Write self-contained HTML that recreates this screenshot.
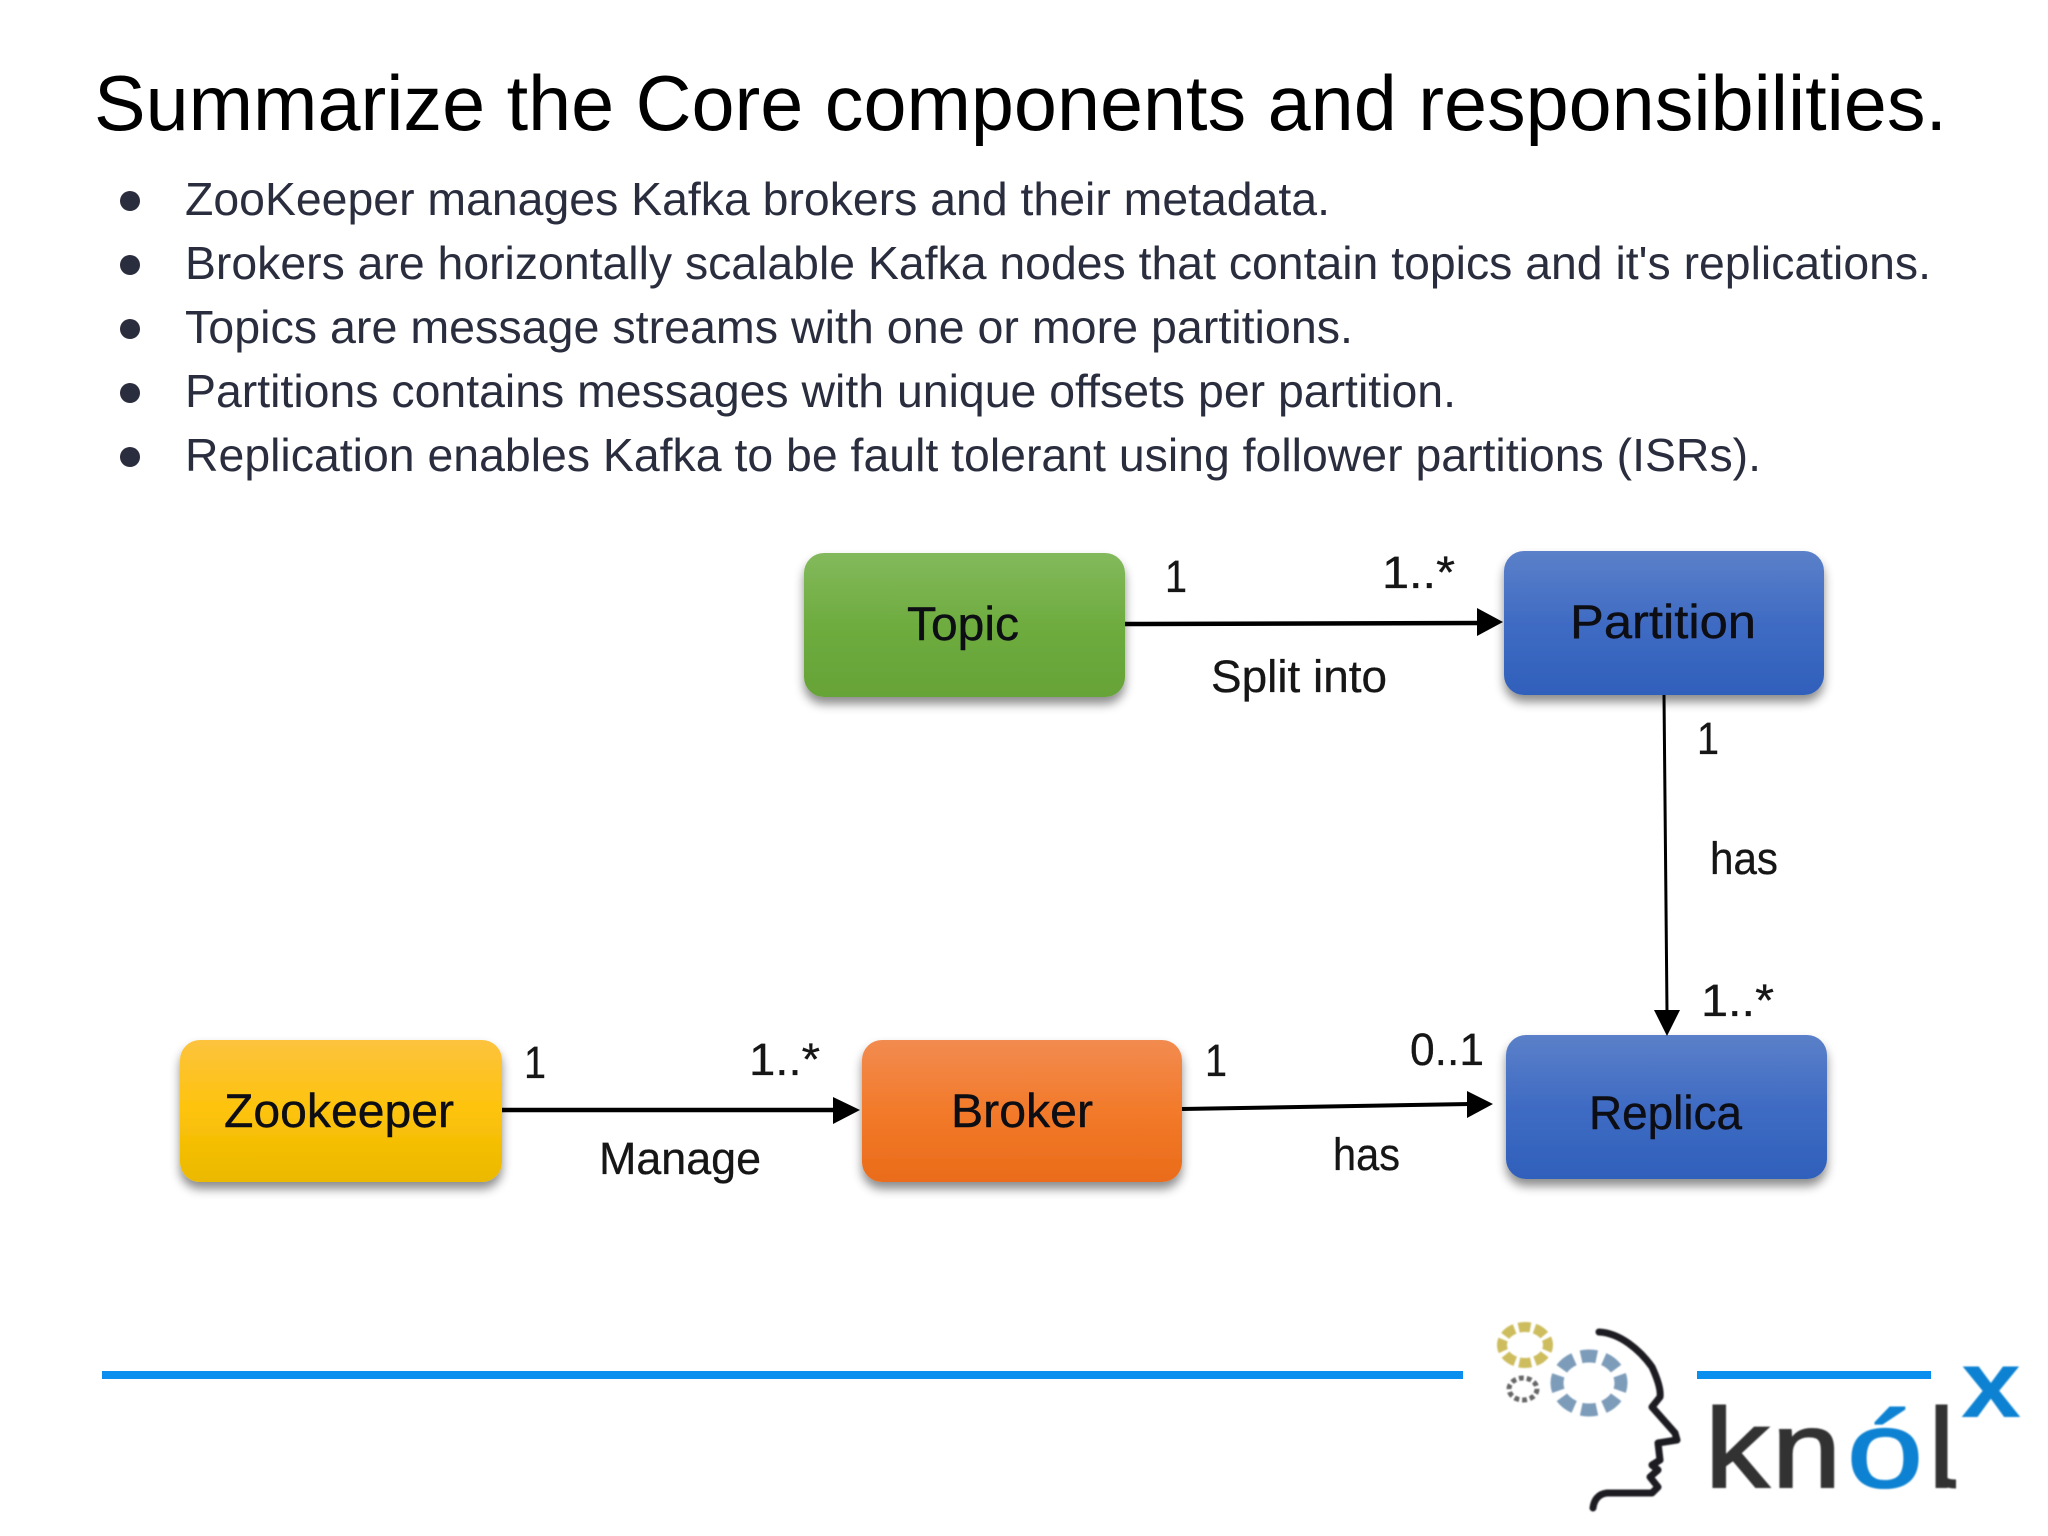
<!DOCTYPE html>
<html><head><meta charset="utf-8"><style>
html,body{margin:0;padding:0;background:#fff;width:2048px;height:1536px;overflow:hidden}
svg{display:block}
text{font-family:"Liberation Sans",sans-serif}
.b{font-size:46px;fill:#2a2d3e}
.l{font-size:45px;fill:#161616;stroke:#161616;stroke-width:.3}
.n{font-size:47px;fill:#0d0d14;stroke:#0d0d14;stroke-width:.4}
</style></head><body>
<svg width="2048" height="1536" viewBox="0 0 2048 1536" xmlns="http://www.w3.org/2000/svg">
<defs>
<linearGradient id="g" x1="0" y1="0" x2="0" y2="1"><stop offset="0" stop-color="#83b95c"/><stop offset=".5" stop-color="#6eac3f"/><stop offset="1" stop-color="#66a337"/></linearGradient>
<linearGradient id="bl" x1="0" y1="0" x2="0" y2="1"><stop offset="0" stop-color="#5b80c9"/><stop offset=".5" stop-color="#3f6bc3"/><stop offset="1" stop-color="#2f60bb"/></linearGradient>
<linearGradient id="y" x1="0" y1="0" x2="0" y2="1"><stop offset="0" stop-color="#fdc33e"/><stop offset=".5" stop-color="#fdc30a"/><stop offset="1" stop-color="#ebb900"/></linearGradient>
<linearGradient id="o" x1="0" y1="0" x2="0" y2="1"><stop offset="0" stop-color="#f28b50"/><stop offset=".5" stop-color="#f27a2a"/><stop offset="1" stop-color="#ea6c1a"/></linearGradient>
<filter id="s" x="-10%" y="-10%" width="120%" height="130%"><feDropShadow dx="0" dy="7" stdDeviation="5" flood-color="#000" flood-opacity=".45"/></filter>
<filter id="bb" x="-5%" y="-5%" width="110%" height="110%"><feGaussianBlur stdDeviation=".7"/></filter>
</defs>

<text x="94" y="130" font-size="78" fill="#000" textLength="1853" lengthAdjust="spacingAndGlyphs">Summarize the Core components and responsibilities.</text>

<g fill="#2a2d3e"><circle cx="130" cy="201" r="10"/><circle cx="130" cy="265" r="10"/><circle cx="130" cy="329" r="10"/><circle cx="130" cy="393" r="10"/><circle cx="130" cy="457" r="10"/></g>
<text class="b" x="185" y="215" textLength="1145" lengthAdjust="spacingAndGlyphs">ZooKeeper manages Kafka brokers and their metadata.</text>
<text class="b" x="185" y="279" textLength="1746" lengthAdjust="spacingAndGlyphs">Brokers are horizontally scalable Kafka nodes that contain topics and it's replications.</text>
<text class="b" x="185" y="343" textLength="1168" lengthAdjust="spacingAndGlyphs">Topics are message streams with one or more partitions.</text>
<text class="b" x="185" y="407" textLength="1271" lengthAdjust="spacingAndGlyphs">Partitions contains messages with unique offsets per partition.</text>
<text class="b" x="185" y="471" textLength="1576" lengthAdjust="spacingAndGlyphs">Replication enables Kafka to be fault tolerant using follower partitions (ISRs).</text>

<rect x="804" y="553" width="321" height="144" rx="20" fill="url(#g)" filter="url(#s)"/>
<rect x="1504" y="551" width="320" height="144" rx="20" fill="url(#bl)" filter="url(#s)"/>
<rect x="180" y="1040" width="322" height="142" rx="20" fill="url(#y)" filter="url(#s)"/>
<rect x="862" y="1040" width="320" height="142" rx="20" fill="url(#o)" filter="url(#s)"/>
<rect x="1506" y="1035" width="321" height="144" rx="20" fill="url(#bl)" filter="url(#s)"/>

<g stroke="#000" fill="none">
<line x1="1125" y1="624" x2="1482" y2="623" stroke-width="4.5"/>
<line x1="1664" y1="695" x2="1667" y2="1012" stroke-width="3"/>
<line x1="502" y1="1110" x2="838" y2="1110" stroke-width="4.5"/>
<line x1="1182" y1="1109" x2="1470" y2="1104" stroke-width="4"/>
</g>
<g fill="#000">
<polygon points="1477,608 1503,622 1477,636"/>
<polygon points="1654,1010 1680,1010 1667,1036"/>
<polygon points="833,1097 860,1110 833,1124"/>
<polygon points="1467,1091 1493,1104 1467,1118"/>
</g>

<text class="n" x="907" y="640" textLength="112" lengthAdjust="spacingAndGlyphs">Topic</text>
<text class="n" x="1570" y="638" textLength="186" lengthAdjust="spacingAndGlyphs">Partition</text>
<text class="n" x="224" y="1127" textLength="230" lengthAdjust="spacingAndGlyphs">Zookeeper</text>
<text class="n" x="951" y="1127" textLength="142" lengthAdjust="spacingAndGlyphs">Broker</text>
<text class="n" x="1589" y="1129" textLength="153" lengthAdjust="spacingAndGlyphs">Replica</text>

<text class="l" x="1165" y="592" textLength="22" lengthAdjust="spacingAndGlyphs">1</text>
<text class="l" x="1382" y="588" textLength="73" lengthAdjust="spacingAndGlyphs">1..*</text>
<text class="l" x="1211" y="692" textLength="176" lengthAdjust="spacingAndGlyphs">Split into</text>
<text class="l" x="1697" y="754" textLength="22" lengthAdjust="spacingAndGlyphs">1</text>
<text class="l" x="1710" y="874" textLength="68" lengthAdjust="spacingAndGlyphs">has</text>
<text class="l" x="1701" y="1016" textLength="73" lengthAdjust="spacingAndGlyphs">1..*</text>
<text class="l" x="524" y="1078" textLength="22" lengthAdjust="spacingAndGlyphs">1</text>
<text class="l" x="749" y="1075" textLength="71" lengthAdjust="spacingAndGlyphs">1..*</text>
<text class="l" x="599" y="1174" textLength="162" lengthAdjust="spacingAndGlyphs">Manage</text>
<text class="l" x="1205" y="1076" textLength="22" lengthAdjust="spacingAndGlyphs">1</text>
<text class="l" x="1410" y="1065" textLength="74" lengthAdjust="spacingAndGlyphs">0..1</text>
<text class="l" x="1333" y="1170" textLength="67" lengthAdjust="spacingAndGlyphs">has</text>

<rect x="102" y="1371" width="1361" height="8" fill="#0a8fee"/>
<rect x="1697" y="1371" width="234" height="8" fill="#0a8fee"/>

<g filter="url(#bb)">
<ellipse cx="1525" cy="1345" rx="23" ry="18" fill="none" stroke="#cdbd5e" stroke-width="10" pathLength="8" stroke-dasharray=".74 .26" stroke-dashoffset=".37"/>
<ellipse cx="1589" cy="1383" rx="32" ry="27" fill="none" stroke="#7d9cba" stroke-width="13" pathLength="8" stroke-dasharray=".68 .32" stroke-dashoffset=".34"/>
<ellipse cx="1523" cy="1389" rx="14" ry="11" fill="none" stroke="#666" stroke-width="5" pathLength="10" stroke-dasharray=".62 .38"/>
<path d="M1599,1332 C1620,1333 1640,1350 1652,1367 C1658,1380 1661,1390 1660,1397 L1652,1407 L1675,1433 L1677,1440 L1658,1443 L1660,1460 L1652,1465 L1658,1470 L1650,1477 L1658,1487 L1652,1493 L1607,1493 C1598,1494 1594,1500 1593,1508" fill="none" stroke="#1c1c20" stroke-width="7" stroke-linecap="round" stroke-linejoin="round"/>
<text x="1705" y="1487" font-size="112" fill="#333" stroke="#333" stroke-width="2" textLength="64" lengthAdjust="spacingAndGlyphs">k</text>
<text x="1772" y="1487" font-size="108" fill="#333" stroke="#333" stroke-width="2" textLength="69" lengthAdjust="spacingAndGlyphs">n</text>
<text x="1847" y="1487" font-size="108" fill="#0a82d2" stroke="#0a82d2" stroke-width="2" textLength="76" lengthAdjust="spacingAndGlyphs">ó</text>
<text x="1929" y="1487" font-size="112" fill="#333" stroke="#333" stroke-width="2" textLength="25" lengthAdjust="spacingAndGlyphs">l</text>
<path d="M1941,1470 C1941,1482 1946,1484 1956,1484" fill="none" stroke="#333" stroke-width="9"/>
<text x="1961" y="1417" font-size="96" font-weight="bold" fill="#0a82d2" textLength="60" lengthAdjust="spacingAndGlyphs">x</text>
</g>
</svg>
</body></html>
